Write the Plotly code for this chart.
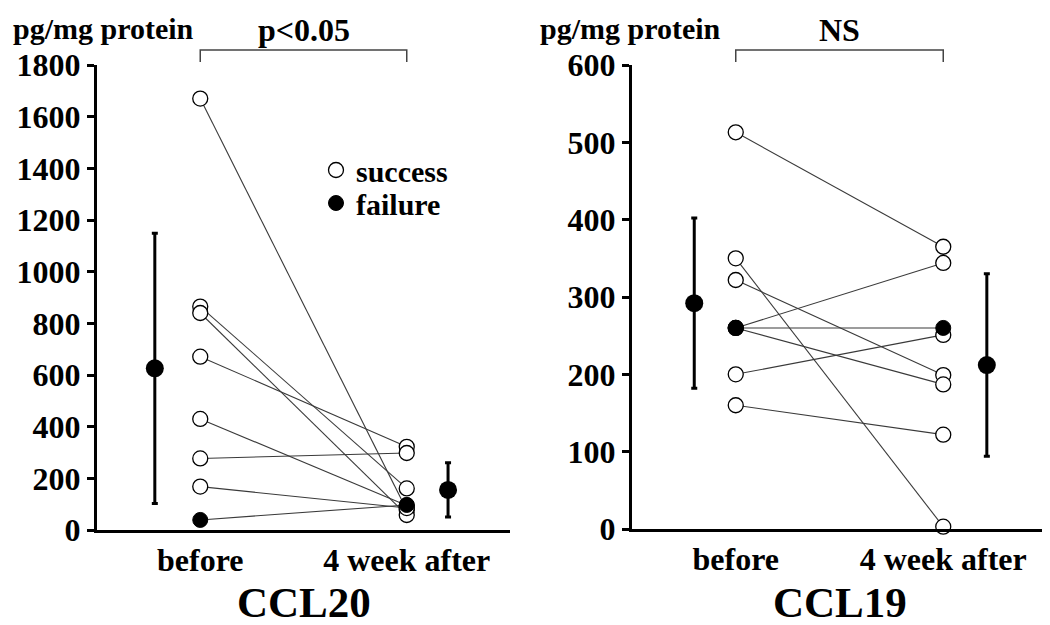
import plotly.graph_objects as go

# ---------------- data ----------------
groups = ["before", "4 week after"]
group_pos = [1, 2]

ccl20_before = [1670, 865, 840, 671, 430, 277, 168, 39]
ccl20_after = [77, 161, 58, 322, 95, 298, 85, 97]
ccl20_status = ["success", "success", "success", "success", "success", "success", "success", "failure"]
ccl20_mean = [626, 155]
ccl20_sd = [523, 105]
ccl20_mean_pos = [0.78, 2.2]

ccl19_before = [513, 350, 322, 260, 260, 260, 200, 160]
ccl19_after = [365, 3, 199, 344, 260, 187, 251, 122]
ccl19_status = ["success", "success", "success", "success", "failure", "success", "success", "success"]
ccl19_mean = [292, 212]
ccl19_sd = [110, 118]
ccl19_mean_pos = [0.8, 2.21]

ccl20_ticks = [0, 200, 400, 600, 800, 1000, 1200, 1400, 1600, 1800]
ccl19_ticks = [0, 100, 200, 300, 400, 500, 600]

FONT = "Liberation Serif"
OFF = 8                      # page body margin of the html page
W, H = 1050 - OFF, 625 - OFF


def px(x):
    return (x - OFF) / W


def py(y):
    return 1 - (y - OFF) / H


fig = go.Figure()


def add_panel(before, after, status, mean, sd, mean_pos, xa, ya, legend):
    for b, a in zip(before, after):
        fig.add_trace(go.Scatter(
            x=group_pos, y=[b, a], mode="lines", xaxis=xa, yaxis=ya,
            line=dict(color="#3a3a3a", width=1.1), showlegend=False, hoverinfo="skip"))
    sx, sy, fx, fy = [], [], [], []
    for b, a, s in zip(before, after, status):
        if s == "success":
            sx += group_pos; sy += [b, a]
        else:
            fx += group_pos; fy += [b, a]
    fig.add_trace(go.Scatter(
        x=sx, y=sy, mode="markers", xaxis=xa, yaxis=ya, name="success", legend="legend",
        marker=dict(symbol="circle", size=15, color="white", line=dict(color="black", width=1.3)),
        showlegend=legend, cliponaxis=False))
    fig.add_trace(go.Scatter(
        x=fx, y=fy, mode="markers", xaxis=xa, yaxis=ya, name="failure", legend="legend2",
        marker=dict(symbol="circle", size=15, color="black", line=dict(color="black", width=1)),
        showlegend=legend, cliponaxis=False))
    fig.add_trace(go.Scatter(
        x=mean_pos, y=mean, mode="markers", xaxis=xa, yaxis=ya,
        marker=dict(symbol="circle", size=18, color="black"),
        error_y=dict(type="data", array=sd, visible=True, color="black", thickness=3, width=3),
        showlegend=False, cliponaxis=False))


add_panel(ccl20_before, ccl20_after, ccl20_status, ccl20_mean, ccl20_sd, ccl20_mean_pos, "x", "y", True)
add_panel(ccl19_before, ccl19_after, ccl19_status, ccl19_mean, ccl19_sd, ccl19_mean_pos, "x2", "y2", False)

tickfont = dict(family=FONT, size=32, color="black", weight="bold")

xcommon = dict(range=[0.5, 2.5], tickvals=group_pos, ticktext=groups, showline=True,
               linecolor="black", linewidth=3, showgrid=False, zeroline=False,
               ticks="", tickfont=tickfont, automargin=False)
ycommon = dict(showline=True, linecolor="black", linewidth=3, showgrid=False, zeroline=False,
               ticks="outside", ticklen=7, tickwidth=3, tickcolor="black", tickfont=tickfont,
               automargin=False)

legfont = dict(family=FONT, size=30, color="black", weight="bold")
fig.update_layout(
    width=W, height=H,
    margin=dict(l=0, r=0, t=0, b=0, pad=0, autoexpand=False),
    paper_bgcolor="white", plot_bgcolor="white",
    font=dict(family=FONT, color="black"),
    xaxis=dict(domain=[px(97), px(510)], anchor="y", **xcommon),
    yaxis=dict(domain=[py(530), py(65)], anchor="x", range=[0, 1800],
               tickvals=ccl20_ticks, **ycommon),
    xaxis2=dict(domain=[px(632), px(1047)], anchor="y2", **xcommon),
    yaxis2=dict(domain=[py(529), py(65)], anchor="x2", range=[0, 600],
                tickvals=ccl19_ticks, **ycommon),
    legend=dict(x=px(316), y=py(170), xanchor="left", yanchor="middle", font=legfont,
                bgcolor="rgba(0,0,0,0)", itemwidth=30),
    legend2=dict(x=px(316), y=py(203), xanchor="left", yanchor="middle", font=legfont,
                 bgcolor="rgba(0,0,0,0)", itemwidth=30),
    showlegend=True,
)

for xr in ["x", "x2"]:
    fig.add_shape(type="path", xref=xr, yref="paper",
                  path=f"M 1 {py(62)} L 1 {py(50)} L 2 {py(50)} L 2 {py(62)}",
                  line=dict(color="#444444", width=1.5))

ann_font = dict(family=FONT, size=32, color="black", weight="bold")
unit_font = dict(family=FONT, size=30, color="black", weight="bold")


def ann(text, x, xref, y, font, xanchor="center"):
    fig.add_annotation(text=text, x=x, xref=xref, y=y, yref="paper", xanchor=xanchor,
                       yanchor="middle", showarrow=False, font=font)


ann("p<0.05", 1.5, "x", py(30), ann_font)
ann("NS", 1.5, "x2", py(30), ann_font)
ann("pg/mg protein", px(11), "paper", py(28), unit_font, "left")
ann("pg/mg protein", px(538), "paper", py(28), unit_font, "left")
title_font = dict(family=FONT, size=43, color="black", weight="bold")
ann("CCL20", 1.5, "x", py(602), title_font)
ann("CCL19", 1.5, "x2", py(602), title_font)

fig.write_html("out.html")
